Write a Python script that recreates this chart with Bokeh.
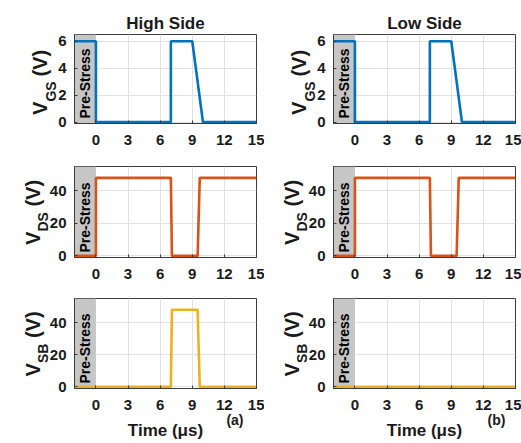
import math
from bokeh.plotting import figure
from bokeh.models import Label, BoxAnnotation, FixedTicker, Range1d, Title
from bokeh.layouts import column, row
from bokeh.embed import file_html
from bokeh.resources import INLINE

# ---- data ----
t_vgs = [-2, 0, 0, 7, 7, 9, 10, 15]
vgs_high = [6, 6, 0, 0, 6, 6, 0, 0]
vgs_low = [6, 6, 0, 0, 6, 6, 0, 0]

t_vds = [-2, 0, 0, 7, 7.1, 9.5, 9.7, 15]
vds_high = [0, 0, 48, 48, 0, 0, 48, 48]
vds_low = [0, 0, 48, 48, 0, 0, 48, 48]

t_vsb_high = [-2, 7, 7.1, 9.5, 9.7, 15]
vsb_high = [0, 0, 48, 48, 0, 0]
t_vsb_low = [-2, 15]
vsb_low = [0, 0]

x_ticks = [0, 3, 6, 9, 12, 15]
vgs_ticks = [0, 2, 4, 6]
v_ticks = [0, 20, 40]
pre_stress = [-2, 0]
titles = ["High Side", "Low Side"]
tags = ["(a)", "(b)"]

FONT = "Liberation Sans"
BLUE, ORANGE, YELLOW = "#0072BD", "#D95319", "#EDB120"
AXC = "#3c3c3c"
TXT = "#1a1a1a"

LEFTS = [74, 69]
FRAME_W = [182, 182]
RIGHTS = [8, 6]
TOPS = [34, 15, 13]
FRAME_H = [89, 91, 90]
BOTTOMS = [28, 28, 55]
TAG_OFF = [13, 10]


def make(col, r, t, v, color, yr, yticks, sub):
    p = figure(width=LEFTS[col] + FRAME_W[col] + RIGHTS[col],
               height=TOPS[r] + FRAME_H[r] + BOTTOMS[r],
               x_range=Range1d(-2, 15), y_range=Range1d(*yr),
               output_backend="svg", toolbar_location=None,
               min_border_left=LEFTS[col], min_border_right=RIGHTS[col],
               min_border_top=TOPS[r], min_border_bottom=BOTTOMS[r])
    p.background_fill_color = "white"
    p.border_fill_color = "white"
    p.outline_line_color = AXC
    p.outline_line_width = 1
    p.add_layout(BoxAnnotation(left=pre_stress[0], right=pre_stress[1],
                               fill_color="#c6c6c6", fill_alpha=1,
                               line_color=None, level="underlay"))
    p.line(t, v, line_color=color, line_width=2.6)

    p.xaxis.ticker = FixedTicker(ticks=x_ticks)
    p.yaxis.ticker = FixedTicker(ticks=yticks)
    for ax in (p.xaxis, p.yaxis):
        ax.axis_line_color = AXC
        ax.major_tick_line_color = AXC
        ax.major_tick_in = 3
        ax.major_tick_out = 0
        ax.minor_tick_line_color = None
        ax.major_label_text_font = FONT
        ax.major_label_text_font_style = "bold"
        ax.major_label_text_font_size = "15px"
        ax.major_label_text_color = TXT
    p.xaxis.major_label_standoff = 11
    p.yaxis.major_label_standoff = 8
    p.grid.grid_line_color = "#e2e2e2"
    p.grid.grid_line_width = 1

    # Pre-Stress label
    p.add_layout(Label(x=-1, y=5, x_units="data", y_units="screen",
                       text="Pre-Stress", angle=math.pi / 2,
                       text_align="left", text_baseline="middle",
                       text_font=FONT, text_font_style="bold",
                       text_font_size="14px", text_color="black"))

    # y label: V_sub (V) built from two titles in the left panel
    w_v = 13.3
    total = 65.8
    y0 = (FRAME_H[r] - total) / 2 - (3 if r == 0 else 0)
    sub_standoff = -6.1 if r == 0 else -9.5
    v_standoff = -14 if r == 0 else -12.5
    p.add_layout(Title(text=sub, align="left", offset=y0 + w_v,
                       text_font=FONT, text_font_style="bold",
                       text_font_size="14px", text_color=TXT,
                       standoff=sub_standoff), "left")
    p.add_layout(Title(text="V\u2003\u2005(V)", align="left", offset=y0,
                       text_font=FONT, text_font_style="bold",
                       text_font_size="20px", text_color=TXT,
                       standoff=v_standoff), "left")

    if r == 0:
        p.title.text = titles[col]
        p.title.align = "center"
        p.title.text_font = FONT
        p.title.text_font_style = "bold"
        p.title.text_font_size = "17px"
        p.title.text_color = TXT
        p.title.standoff = 4
    if r == 2:
        p.add_layout(Title(text=tags[col], align="right", offset=TAG_OFF[col],
                           text_font=FONT, text_font_style="bold",
                           text_font_size="14px", text_color=TXT,
                           standoff=-5.5), "below")
        p.add_layout(Title(text="Time (μs)", align="center",
                           text_font=FONT, text_font_style="bold",
                           text_font_size="17px", text_color=TXT,
                           standoff=-13), "below")
    return p


p1 = make(0, 0, t_vgs, vgs_high, BLUE, (-0.1, 6.5), vgs_ticks, "GS")
p2 = make(1, 0, t_vgs, vgs_low, BLUE, (-0.1, 6.5), vgs_ticks, "GS")
p3 = make(0, 1, t_vds, vds_high, ORANGE, (-1, 55), v_ticks, "DS")
p4 = make(1, 1, t_vds, vds_low, ORANGE, (-1, 55), v_ticks, "DS")
p5 = make(0, 2, t_vsb_high, vsb_high, YELLOW, (-1, 55), v_ticks, "SB")
p6 = make(1, 2, t_vsb_low, vsb_low, YELLOW, (-1, 55), v_ticks, "SB")

layout = column(row(p1, p2, spacing=0), row(p3, p4, spacing=0),
                row(p5, p6, spacing=0), spacing=0)

open("out.html", "w").write(file_html(layout, INLINE))
